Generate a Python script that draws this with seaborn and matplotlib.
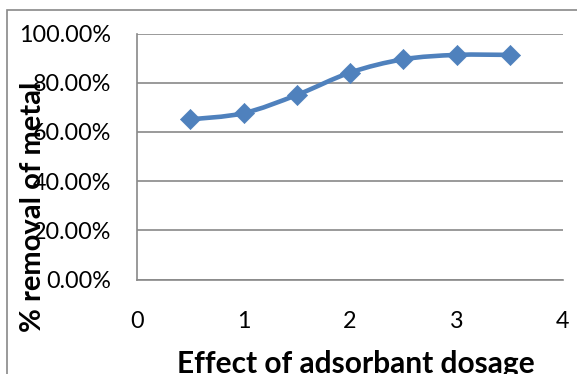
import numpy as np
import matplotlib
matplotlib.use("Agg")
import matplotlib.pyplot as plt
from matplotlib.path import Path
from matplotlib.patches import PathPatch, Rectangle
from matplotlib.ticker import FuncFormatter
import pandas as pd
import seaborn as sns

# Removal efficiency versus adsorbent dosage
dosage = [0.5, 1.0, 1.5, 2.0, 2.5, 3.0, 3.5]
removal = [0.651, 0.676, 0.750, 0.841, 0.895, 0.913, 0.913]
x_ticks = [0, 1, 2, 3, 4]
y_ticks = [0.0, 0.2, 0.4, 0.6, 0.8, 1.0]
x_title = "Effect of adsorbant dosage"
y_title = "% removal of metal"

BLUE = "#4F81BD"
GRID = "#898989"

sns.set_style("white")
plt.rcParams["font.family"] = ["Lato", "DejaVu Sans"]

W, H = 577, 374
fig = plt.figure(figsize=(W / 100, H / 100), dpi=100)
ax = fig.add_axes([137 / W, 1 - 279.5 / H, (563 - 137) / W, (279.5 - 33.5) / H])

df = pd.DataFrame({"dosage": dosage, "removal": removal})

# Smoothed connecting line: cubic Bezier segments through each data point
pts = df[["dosage", "removal"]].to_numpy(dtype=float)
verts = [tuple(pts[0])]
codes = [Path.MOVETO]
n = len(pts)
for i in range(n - 1):
    p0 = pts[max(i - 1, 0)]
    p1 = pts[i]
    p2 = pts[i + 1]
    p3 = pts[min(i + 2, n - 1)]
    c1 = p1 + (p2 - p0) / 6
    c2 = p2 - (p3 - p1) / 6
    verts += [tuple(c1), tuple(c2), tuple(p2)]
    codes += [Path.CURVE4] * 3
ax.add_patch(PathPatch(Path(verts, codes), fill=False, edgecolor=BLUE,
                       lw=3.3, capstyle="round", joinstyle="round", zorder=2))

sns.scatterplot(data=df, x="dosage", y="removal", marker="D", s=105,
                color=BLUE, edgecolor=BLUE, linewidth=0.5, zorder=3, ax=ax)

ax.set_xlim(x_ticks[0], x_ticks[-1])
ax.set_ylim(y_ticks[0], y_ticks[-1])
ax.set_xticks(x_ticks)
ax.set_yticks(y_ticks)
ax.yaxis.set_major_formatter(FuncFormatter(lambda v, _: f"{v * 100:.2f}%"))
ax.set_xlabel("")
ax.set_ylabel("")

ax.yaxis.grid(True, color=GRID, lw=1.2)
ax.xaxis.grid(False)
ax.set_axisbelow(True)
for side in ("top", "right"):
    ax.spines[side].set_visible(False)
for side in ("left", "bottom"):
    ax.spines[side].set_color(GRID)
    ax.spines[side].set_linewidth(1.2)

ax.tick_params(axis="y", length=0, pad=18.5, labelsize=16.8, labelcolor="black")
ax.tick_params(axis="x", length=0, pad=23, labelsize=16.8, labelcolor="black")

fig.text(355.5 / W, 1 - 373 / H, x_title, ha="center", va="baseline",
         fontsize=21.5, fontweight="bold", color="black")
fig.text(33 / W, 1 - 207 / H, y_title, ha="center", va="center",
         rotation=90, fontsize=21, fontweight="bold", color="black")

# Chart-area frame
fig.add_artist(Rectangle((7 / W, -0.2), 1.5, 1 - 10 / H + 0.2,
                         transform=fig.transFigure, fill=False,
                         edgecolor=GRID, lw=1.2, clip_on=False))

fig.savefig("out.png", dpi=100)
